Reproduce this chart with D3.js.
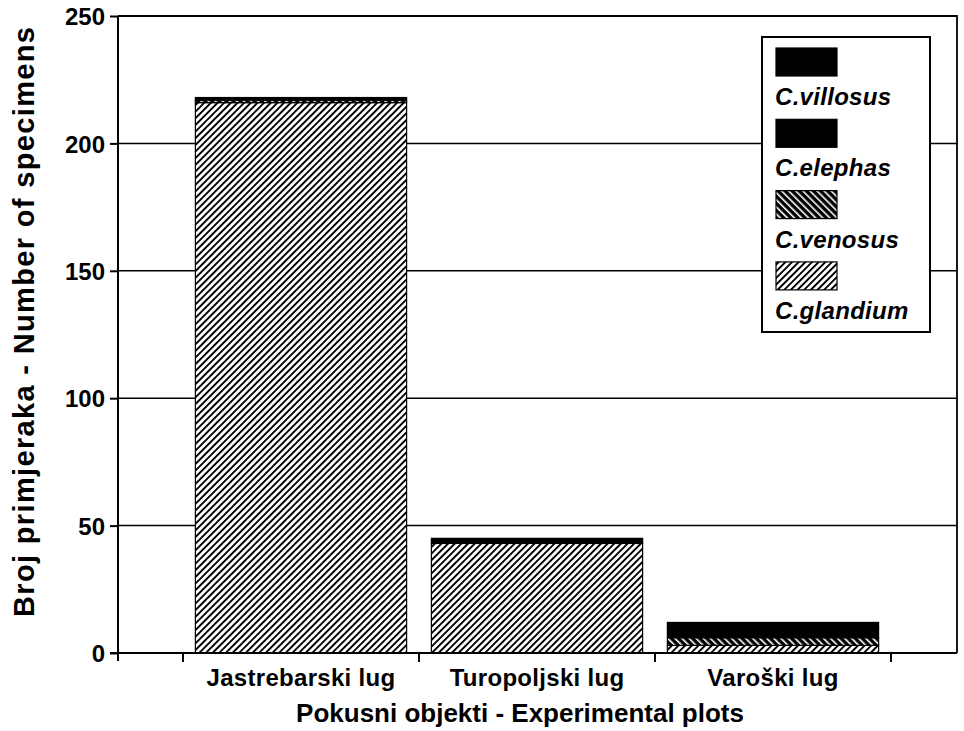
<!DOCTYPE html>
<html>
<head>
<meta charset="utf-8">
<script src="https://cdnjs.cloudflare.com/ajax/libs/d3/7.8.5/d3.min.js"></script>
<style>
  body { margin: 0; background: #fff; }
  text { font-family: "Liberation Sans", Arial, sans-serif; font-weight: bold; fill: #000; }
</style>
</head>
<body>
<div id="chart"></div>
<script>
// Data
const plots = ["Jastrebarski lug", "Turopoljski lug", "Varoški lug"];
const species = ["C.glandium", "C.venosus", "C.elephas", "C.villosus"];
const glandium = [216, 43, 3];
const venosus = [1, 0, 3];
const elephas = [1, 1, 4];
const villosus = [0, 1, 2];
const yTicks = [0, 50, 100, 150, 200, 250];

const width = 964, height = 731;
const m = { top: 16, right: 7, bottom: 78, left: 118 };

const svg = d3.select("#chart").append("svg")
    .attr("width", width)
    .attr("height", height);

// Hatch patterns
const defs = svg.append("defs");
defs.append("pattern")
    .attr("id", "pat-glandium")
    .attr("patternUnits", "userSpaceOnUse")
    .attr("width", 4.7).attr("height", 10)
    .attr("patternTransform", "rotate(45)")
    .call(p => {
        p.append("rect").attr("width", 4.7).attr("height", 10).attr("fill", "#fff");
        p.append("rect").attr("width", 1.9).attr("height", 10).attr("fill", "#000");
    });
defs.append("pattern")
    .attr("id", "pat-venosus")
    .attr("patternUnits", "userSpaceOnUse")
    .attr("width", 5).attr("height", 10)
    .attr("patternTransform", "rotate(-45)")
    .call(p => {
        p.append("rect").attr("width", 5).attr("height", 10).attr("fill", "#000");
        p.append("rect").attr("width", 1.6).attr("height", 10).attr("fill", "#fff");
    });

const fills = {
    "C.glandium": "url(#pat-glandium)",
    "C.venosus": "url(#pat-venosus)",
    "C.elephas": "#000",
    "C.villosus": "#000"
};

const rows = plots.map((p, i) => ({
    plot: p,
    "C.glandium": glandium[i],
    "C.venosus": venosus[i],
    "C.elephas": elephas[i],
    "C.villosus": villosus[i]
}));
const stacked = d3.stack().keys(species)(rows);

// Scales
const x = d3.scaleBand()
    .domain(plots)
    .range([183, 891])
    .paddingInner(0.105)
    .paddingOuter(0.0525);

const y = d3.scaleLinear()
    .domain([0, 250])
    .range([height - m.bottom, m.top]);

const x0 = m.left, x1 = width - m.right;

// Gridlines
svg.append("g").selectAll("line")
    .data(yTicks.filter(d => d > 0 && d < 250))
    .join("line")
    .attr("x1", x0).attr("x2", x1)
    .attr("y1", d => y(d)).attr("y2", d => y(d))
    .attr("stroke", "#000").attr("stroke-width", 1.5);

// Frame top and right
svg.append("path")
    .attr("d", `M${x0},${y(250)}H${x1}V${y(0)}`)
    .attr("fill", "none").attr("stroke", "#000").attr("stroke-width", 1.8);

// Bars
svg.append("g").selectAll("g")
    .data(stacked)
    .join("g")
    .attr("fill", d => fills[d.key])
    .selectAll("rect")
    .data(d => d.filter(s => s[1] > s[0]))
    .join("rect")
    .attr("x", d => x(d.data.plot))
    .attr("width", x.bandwidth())
    .attr("y", d => y(d[1]))
    .attr("height", d => y(d[0]) - y(d[1]))
    .attr("stroke", "#000")
    .attr("stroke-width", 1.2);

// Y axis
const yAxis = svg.append("g")
    .attr("transform", `translate(${x0},0)`)
    .call(d3.axisLeft(y).tickValues(yTicks).tickSize(8).tickPadding(5));
yAxis.select(".domain").remove();
yAxis.selectAll(".tick line").attr("stroke-width", 2);
yAxis.selectAll("text")
    .attr("font-size", 24)
    .attr("font-family", null)
    .attr("dy", "0.36em");
svg.append("line")
    .attr("x1", x0).attr("x2", x0)
    .attr("y1", y(250)).attr("y2", y(0) + 8)
    .attr("stroke", "#000").attr("stroke-width", 2);

// X axis
svg.append("line")
    .attr("x1", x0 - 8).attr("x2", x1)
    .attr("y1", y(0)).attr("y2", y(0))
    .attr("stroke", "#000").attr("stroke-width", 2);
const xTickPos = [x.range()[0], ...plots.map(p => x(p) + x.bandwidth() + x.step() * x.paddingInner() / 2)];
xTickPos[3] = x.range()[1];
svg.append("g").selectAll("line")
    .data(xTickPos)
    .join("line")
    .attr("x1", d => d).attr("x2", d => d)
    .attr("y1", y(0)).attr("y2", y(0) + 9)
    .attr("stroke", "#000").attr("stroke-width", 2);
svg.append("g").selectAll("text")
    .data(plots)
    .join("text")
    .attr("x", d => x(d) + x.bandwidth() / 2)
    .attr("y", 686)
    .attr("text-anchor", "middle")
    .attr("font-size", 24)
    .attr("letter-spacing", 0.3)
    .text(d => d);

// Axis titles
svg.append("text")
    .attr("x", 520).attr("y", 722)
    .attr("text-anchor", "middle")
    .attr("font-size", 26)
    .text("Pokusni objekti - Experimental plots");
svg.append("text")
    .attr("transform", "translate(34,322) rotate(-90)")
    .attr("text-anchor", "middle")
    .attr("font-size", 29)
    .attr("textLength", 590)
    .attr("lengthAdjust", "spacing")
    .text("Broj primjeraka - Number of specimens");

// Legend
const legend = svg.append("g").attr("transform", "translate(762,37)");
legend.append("rect")
    .attr("width", 168).attr("height", 295)
    .attr("fill", "#fff").attr("stroke", "#000").attr("stroke-width", 2);
const legendOrder = ["C.villosus", "C.elephas", "C.venosus", "C.glandium"];
const item = legend.selectAll(".item")
    .data(legendOrder)
    .join("g")
    .attr("transform", (d, i) => `translate(0,${i * 71.3})`);
item.append("rect")
    .attr("x", 14).attr("y", 11)
    .attr("width", 61).attr("height", 28)
    .attr("fill", d => fills[d])
    .attr("stroke", "#000").attr("stroke-width", 1.2);
item.append("text")
    .attr("x", 13).attr("y", 68)
    .attr("font-size", 24)
    .attr("font-style", "italic")
    .attr("letter-spacing", 0.3)
    .text(d => d);
</script>
</body>
</html>
